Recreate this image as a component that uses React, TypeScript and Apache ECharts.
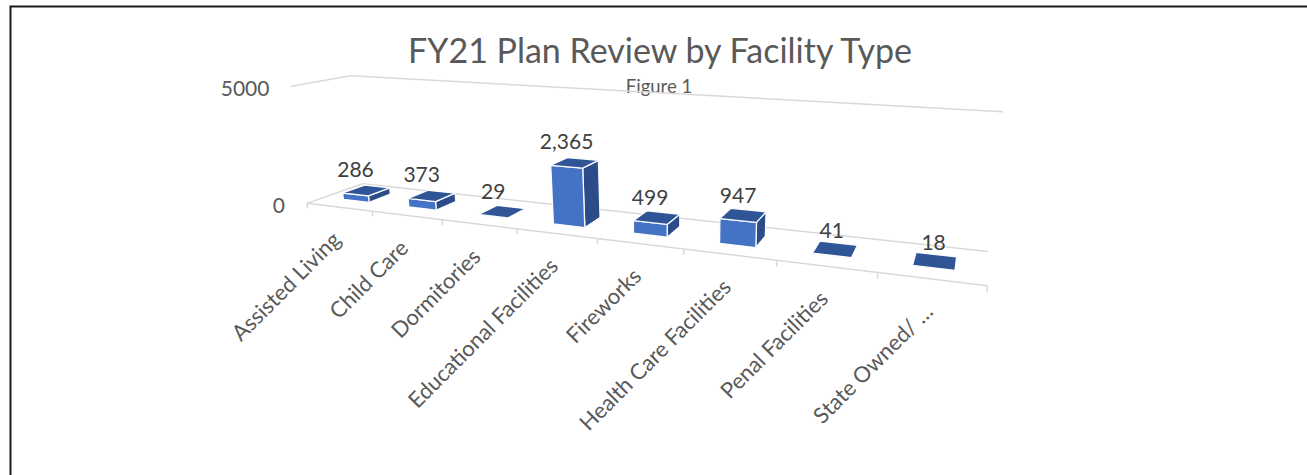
import React, { useEffect, useRef } from "react";
import * as echarts from "echarts";

// ---- data ----
const categories: string[] = [
  "Assisted Living",
  "Child Care",
  "Dormitories",
  "Educational Facilities",
  "Fireworks",
  "Health Care Facilities",
  "Penal Facilities",
  "State Owned/ …",
];
const reviews: number[] = [286, 373, 29, 2365, 499, 947, 41, 18];
const yTicks: number[] = [0, 5000];
const titleText = "FY21 Plan Review by Facility Type";
const subtitleText = "Figure 1";

// ---- layout: perspective of the 3-D plot box (world [X cat units, Y value fraction, Z depth] -> page px) ----
type V3 = [number, number, number];
const BOX_ANCHORS: Array<[V3, [number, number]]> = [
  [[0, 0, 0], [307, 203]],
  [[1, 0, 0], [372, 212]],
  [[2, 0, 0], [442, 220]],
  [[3, 0, 0], [517, 229]],
  [[4, 0, 0], [597, 239]],
  [[5, 0, 0], [683, 249]],
  [[6, 0, 0], [777, 260]],
  [[7, 0, 0], [878, 272]],
  [[8, 0, 0], [988, 285]],
  [[0, 0, 1], [363, 184]],
  [[8, 0, 1], [988, 251]],
  [[0, 1, 0], [292, 86]],
  [[0, 1, 1], [350, 75]],
  [[8, 1, 1], [1003, 113]],
];

const FONT = "Lato, 'Open Sans', sans-serif";
const GRID_COLOR = "#D9D9D9";
const TEXT_COLOR = "#595959";
const LABEL_COLOR = "#404040";
const FRONT = "#4472C4";
const TOP = "#2F5597";
const SIDE = "#2B4C88";
const BAR_HALF = 0.2; // fraction of a category band
const Z_FRONT = 0.3;
const Z_BACK = 0.7;

function fitCamera(pairs: Array<[V3, [number, number]]>) {
  const CX = 650, CY = 200, S = 400;
  const M: number[][] = Array.from({ length: 11 }, () => new Array(12).fill(0));
  const add = (r: number[], b: number) => {
    for (let i = 0; i < 11; i++) {
      for (let j = 0; j < 11; j++) M[i][j] += r[i] * r[j];
      M[i][11] += r[i] * b;
    }
  };
  for (const [[X, Y, Z], [sx, sy]] of pairs) {
    const x = (sx - CX) / S, y = (sy - CY) / S;
    add([X, Y, Z, 1, 0, 0, 0, 0, -x * X, -x * Y, -x * Z], x);
    add([0, 0, 0, 0, X, Y, Z, 1, -y * X, -y * Y, -y * Z], y);
  }
  for (let c = 0; c < 11; c++) {
    let piv = c;
    for (let r = c + 1; r < 11; r++) if (Math.abs(M[r][c]) > Math.abs(M[piv][c])) piv = r;
    const tmp = M[c]; M[c] = M[piv]; M[piv] = tmp;
    for (let r = 0; r < 11; r++) {
      if (r === c) continue;
      const f = M[r][c] / M[c][c];
      for (let k = c; k < 12; k++) M[r][k] -= f * M[c][k];
    }
  }
  const p = M.map((row, i) => row[11] / row[i]);
  return (X: number, Y: number, Z: number): [number, number] => {
    const w = p[8] * X + p[9] * Y + p[10] * Z + 1;
    return [
      ((p[0] * X + p[1] * Y + p[2] * Z + p[3]) / w) * S + CX,
      ((p[4] * X + p[5] * Y + p[6] * Z + p[7]) / w) * S + CY,
    ];
  };
}

const project = fitCamera(BOX_ANCHORS);

function worldOf(api: any, cs: any, cat: number, val: number): [number, number] {
  const pt = api.coord([cat, val]);
  const N = categories.length;
  return [((pt[0] - cs.x) / cs.width) * N, (cs.y + cs.height - pt[1]) / cs.height];
}

function bandOf(api: any, cs: any): number {
  return (api.size([1, 0])[0] / cs.width) * categories.length;
}

function line(a: [number, number], b: [number, number], w = 1.5) {
  return {
    type: "line",
    shape: { x1: a[0], y1: a[1], x2: b[0], y2: b[1] },
    style: { stroke: GRID_COLOR, lineWidth: w },
    silent: true,
  };
}

function renderFrame(params: any, api: any) {
  const cs = params.coordSys;
  const N = categories.length;
  const band = bandOf(api, cs);
  const children: any[] = [];
  const [x0] = worldOf(api, cs, 0, 0);
  const left = x0 - band / 2;
  const right = left + band * N;
  // walls: gridlines at each tick on the side wall and back wall
  yTicks.forEach((t) => {
    const [, Y] = worldOf(api, cs, 0, t);
    children.push(line(project(left, Y, 0), project(left, Y, 1)));
    children.push(line(project(left, Y, 1), project(right, Y, 1)));
    const lp = project(left, Y, 0);
    children.push({
      type: "text",
      x: lp[0] - 22,
      y: lp[1] + 1,
      style: {
        text: String(t),
        fill: TEXT_COLOR,
        fontFamily: FONT,
        fontSize: 21,
        align: "right",
        verticalAlign: "middle",
      },
      silent: true,
    });
  });
  // category axis (front floor edge) and tick marks
  children.push(line(project(left, 0, 0), project(right, 0, 0)));
  for (let i = 0; i <= N; i++) {
    const X = left + i * band;
    children.push(line(project(X, 0, 0), project(X, -0.045, 0)));
  }
  // category labels
  categories.forEach((c, i) => {
    const [X] = worldOf(api, cs, i, 0);
    const p = project(X, 0, 0);
    children.push({
      type: "text",
      x: p[0] - 3,
      y: p[1] + 28,
      rotation: Math.PI / 4,
      style: {
        text: c,
        fill: TEXT_COLOR,
        fontFamily: FONT,
        fontSize: 22,
        align: "right",
        verticalAlign: "middle",
      },
      silent: true,
    });
  });
  return { type: "group", children };
}

function renderBar(params: any, api: any) {
  const cs = params.coordSys;
  const cat = api.value(0);
  const val = api.value(1);
  const band = bandOf(api, cs);
  const [cx, Y1] = worldOf(api, cs, cat, val);
  const X0 = cx - band * BAR_HALF;
  const X1 = cx + band * BAR_HALF;
  const poly = (pts: V3[], fill: string) => ({
    type: "polygon",
    shape: { points: pts.map((q) => project(q[0], q[1], q[2])) },
    style: { fill, stroke: "rgba(255,255,255,0.95)", lineWidth: 1.3, lineJoin: "round" },
  });
  const side = poly(
    [[X1, 0, Z_FRONT], [X1, 0, Z_BACK], [X1, Y1, Z_BACK], [X1, Y1, Z_FRONT]],
    SIDE
  );
  const front = poly(
    [[X0, 0, Z_FRONT], [X1, 0, Z_FRONT], [X1, Y1, Z_FRONT], [X0, Y1, Z_FRONT]],
    FRONT
  );
  const top = poly(
    [[X0, Y1, Z_FRONT], [X1, Y1, Z_FRONT], [X1, Y1, Z_BACK], [X0, Y1, Z_BACK]],
    TOP
  );
  const lp = project(cx, Y1, Z_FRONT);
  const label = {
    type: "text",
    x: lp[0],
    y: lp[1] - 26,
    style: {
      text: val.toLocaleString("en-US"),
      fill: LABEL_COLOR,
      fontFamily: FONT,
      fontSize: 21,
      align: "center",
      verticalAlign: "middle",
    },
    silent: true,
  };
  return { type: "group", children: [side, front, top, label] };
}

export default function App() {
  const ref = useRef<HTMLDivElement>(null);
  useEffect(() => {
    if (!ref.current) return;
    const chart = echarts.init(ref.current, undefined, { renderer: "svg" });
    chart.setOption({
      animation: false,
      backgroundColor: "#ffffff",
      grid: { left: 100, right: 100, top: 60, bottom: 60, show: false },
      xAxis: { type: "category", data: categories, show: false },
      yAxis: { type: "value", min: 0, max: yTicks[yTicks.length - 1], interval: 5000, show: false },
      graphic: [
        {
          type: "rect",
          left: 8,
          top: 4,
          shape: { x: 0, y: 0, width: 1400, height: 600 },
          style: { fill: "none", stroke: "#1a1a1a", lineWidth: 2 },
          silent: true,
        },
        {
          type: "text",
          x: 660,
          y: 49,
          style: {
            text: titleText,
            fill: TEXT_COLOR,
            fontFamily: FONT,
            fontSize: 34,
            align: "center",
            verticalAlign: "middle",
          },
        },
        {
          type: "text",
          x: 659,
          y: 86,
          style: {
            text: subtitleText,
            fill: TEXT_COLOR,
            fontFamily: FONT,
            fontSize: 18.5,
            align: "center",
            verticalAlign: "middle",
          },
        },
      ],
      series: [
        {
          type: "custom",
          name: "frame",
          clip: false,
          silent: true,
          data: [[0, 0]],
          renderItem: renderFrame,
        },
        {
          type: "custom",
          name: "Plan Reviews",
          clip: false,
          data: reviews.map((v, i) => [i, v]),
          renderItem: renderBar,
        },
      ],
    });
    return () => chart.dispose();
  }, []);
  return (
    <div
      ref={ref}
      style={{ position: "fixed", left: 0, top: 0, width: 1307, height: 475, background: "#fff" }}
    />
  );
}
